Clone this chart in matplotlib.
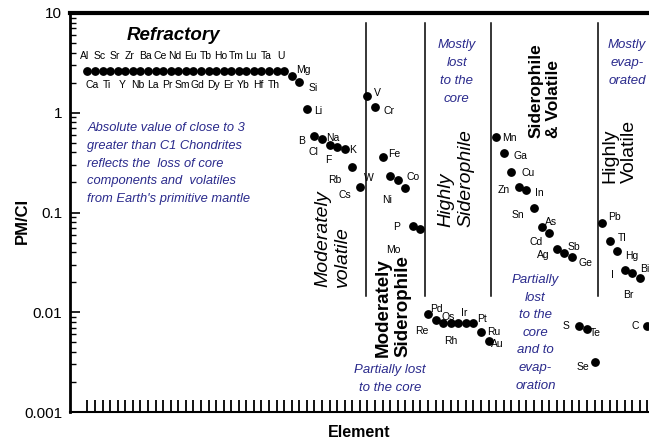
import matplotlib
matplotlib.use('Agg')
import matplotlib.pyplot as plt
import numpy as np

plt.rcParams['font.family'] = ['Liberation Sans', 'DejaVu Sans']

# Primitive mantle / CI chondrite ratios, elements in plotting order
refractory = ['Al', 'Ca', 'Sc', 'Ti', 'Sr', 'Y', 'Zr', 'Nb', 'Ba', 'La', 'Ce', 'Pr', 'Nd', 'Sm',
              'Eu', 'Gd', 'Tb', 'Dy', 'Ho', 'Er', 'Tm', 'Yb', 'Lu', 'Hf', 'Ta', 'Th', 'U']
refractory_ratio = [2.6] * len(refractory)

others = ['Mg', 'Si', 'Li', 'B', 'Cl', 'Na', 'F', 'K', 'Rb', 'Cs',
          'V', 'Cr', 'Fe', 'W', 'Co', 'Ni', 'P', 'Mo',
          'Re', 'Pd', 'Os', 'Rh', 'Ir', '', 'Pt', 'Ru', 'Au',
          'Mn', 'Ga', 'Cu', 'Zn', 'In', 'Sn', 'As', 'Cd', 'Ag', 'Sb', 'Ge',
          'S', 'Te', 'Se', 'Pb', 'Tl', 'Hg', 'I', 'Br', 'Bi', 'C']
others_ratio = [2.34, 2.04, 1.10, 0.59, 0.54, 0.48, 0.457, 0.437, 0.288, 0.182,
                1.48, 1.15, 0.363, 0.234, 0.214, 0.178, 0.074, 0.068,
                0.0095, 0.0083, 0.0078, 0.0078, 0.0078, 0.0078, 0.0078, 0.0063, 0.0052,
                0.575, 0.398, 0.257, 0.182, 0.170, 0.110, 0.0708, 0.0617, 0.0427, 0.0389, 0.0355,
                0.00724, 0.00676, 0.00316, 0.0776, 0.0513, 0.0407, 0.0263, 0.0245, 0.0219, 0.00724]

elements = refractory + others
ratio = refractory_ratio + others_ratio
idx = np.arange(len(elements))

# label offsets in pixels (right, down) from the dot
offsets = {
    'Mg': (12, -6), 'Si': (14, 6), 'Li': (11, 2), 'B': (-13, 5), 'Cl': (-9, 13),
    'Na': (3, -7), 'F': (-9, 13), 'K': (8, 1), 'Rb': (-18, 13), 'Cs': (-15, 8),
    'V': (10, -3), 'Cr': (14, 4), 'Fe': (12, -3), 'W': (-21, 2), 'Co': (15, -3),
    'Ni': (-18, 12), 'P': (-16, 1), 'Mo': (-27, 21),
    'Re': (-6, 17), 'Pd': (1, -11), 'Os': (5, -6), 'Rh': (0, 18), 'Ir': (6, -10),
    'Pt': (9, -4), 'Ru': (13, 0), 'Au': (9, 3),
    'Mn': (13, 1), 'Ga': (17, 3), 'Cu': (17, 1), 'Zn': (-15, 3), 'In': (13, 3),
    'Sn': (-16, 7), 'As': (10, -5), 'Cd': (-13, 9), 'Ag': (-13, 6), 'Sb': (10, -6),
    'Ge': (14, 6), 'S': (-13, 0), 'Te': (8, 4), 'Se': (-12, 5),
    'Pb': (12, -6), 'Tl': (12, -3), 'Hg': (15, 5), 'I': (-12, 5), 'Br': (-4, 22),
    'Bi': (5, -9), 'C': (-12, 0),
}

navy = '#2a2a8c'

fig = plt.figure(figsize=(6.49, 4.41), dpi=100)
ax = fig.add_axes([70 / 649, 1 - 412 / 441, 1 - 70 / 649, 399 / 441])

ax.plot(idx, ratio, 'o', color='black', markersize=5.3)

for i, (name, v) in enumerate(zip(elements, ratio)):
    if not name:
        continue
    if i < len(refractory):
        dx, dy = (-3, -15) if i % 2 == 0 else (-3, 14)
    else:
        dx, dy = offsets[name]
    ax.annotate(name, (i, v), xytext=(dx, -dy), textcoords='offset pixels',
                ha='center', va='center', fontsize=7.5)

# boundaries between element groups
for xb in [36.75, 44.6, 53.3, 67.5]:
    ax.plot([xb, xb], [0.0145, 7.9], color='black', linewidth=1.1)

ax.set_yscale('log')
ax.set_ylim(0.001, 10)
ax.set_xlim(-2.3, 74.2)
ax.set_yticks([0.001, 0.01, 0.1, 1, 10])
ax.set_yticklabels(['0.001', '0.01', '0.1', '1', '10'])
ax.set_xticks(idx)
ax.set_xticklabels([])
ax.tick_params(axis='y', which='major', direction='in', length=7, width=1.2,
               labelsize=11, pad=5.5)
ax.tick_params(axis='y', which='minor', direction='in', length=4, width=1)
ax.tick_params(axis='x', direction='in', length=9, width=1.3)

ax.spines['right'].set_visible(False)
ax.spines['top'].set_linewidth(3)
ax.spines['left'].set_linewidth(2)
ax.spines['bottom'].set_linewidth(1.5)

ax.set_ylabel('PM/CI', fontsize=12, fontweight='bold')
ax.yaxis.set_label_coords(-0.069, 0.48)
ax.set_xlabel('Element', fontsize=11.5, fontweight='bold', labelpad=6)

# group headings
ax.text(11.3, 6.0, 'Refractory', fontsize=13.5, fontweight='bold', style='italic',
        ha='center', va='center')
ax.text(32.4, 0.0179, 'Moderately\nvolatile', rotation=90, fontsize=14, style='italic',
        ha='center', va='bottom', multialignment='left')
ax.text(40.4, 0.00356, 'Moderately\nSiderophile', rotation=90, fontsize=13.5,
        fontweight='bold', ha='center', va='bottom', multialignment='left')
ax.text(48.7, 0.0716, 'Highly\nSiderophile', rotation=90, fontsize=14, style='italic',
        ha='center', va='bottom', multialignment='left')
ax.text(60.4, 0.558, 'Siderophile\n& Volatile', rotation=90, fontsize=12.5,
        fontweight='bold', ha='center', va='bottom', multialignment='left')
ax.text(70.3, 0.198, 'Highly\nVolatile', rotation=90, fontsize=14,
        ha='center', va='bottom', multialignment='left')

# notes
ax.text(0.0, 0.80, "Absolute value of close to 3\ngreater than C1 Chondrites\n"
        "reflects the  loss of core\ncomponents and  volatiles\n"
        "from Earth's primitive mantle", color=navy, style='italic', fontsize=9.3,
        ha='left', va='top', linespacing=1.62)
ax.text(48.8, 5.5, 'Mostly\nlost\nto the\ncore', color=navy, style='italic',
        fontsize=9.5, ha='center', va='top', linespacing=1.66)
ax.text(71.3, 5.5, 'Mostly\nevap-\norated', color=navy, style='italic',
        fontsize=9.5, ha='center', va='top', linespacing=1.66)
ax.text(40.0, 0.0030, 'Partially lost\nto the core', color=navy, style='italic',
        fontsize=9.5, ha='center', va='top', linespacing=1.62)
ax.text(59.2, 0.0241, 'Partially\nlost\nto the\ncore\nand to\nevap-\noration',
        color=navy, style='italic', fontsize=9.5, ha='center', va='top',
        linespacing=1.62)

fig.savefig('out.png', dpi=100)
